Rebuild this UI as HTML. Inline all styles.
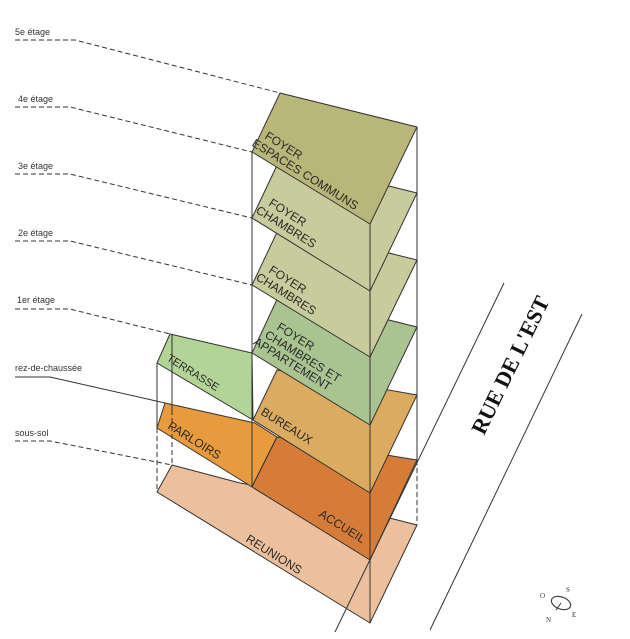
<!DOCTYPE html>
<html><head><meta charset="utf-8"><style>body{margin:0;background:#fff}svg{display:block}</style></head>
<body>
<svg width="630" height="639" viewBox="0 0 630 639" xmlns="http://www.w3.org/2000/svg" font-family="Liberation Sans, sans-serif">
<g stroke="#333" stroke-width="1" stroke-linejoin="round">
<!-- sous-sol -->
<polygon points="157,492 172,465 240,483 280,490 417,525 370,623" fill="#ecc09c"/>
<!-- rdc -->
<polygon points="157,428 165,403 255,423 277,437 252,487" fill="#e89b3c"/>
<polygon points="277,437 417,460 370,560 252,487" fill="#d57d38"/>
<!-- terrasse -->
<polygon points="157,363 170,334 252,353 253,420" fill="#b3d497"/>
<!-- bureaux -->
<polygon points="253,420 277,370 417,395 370,493" fill="#dbab60"/>
<!-- 1er -->
<polygon points="252,353 280,293 417,327 370,425" fill="#a9c391"/>
<!-- 2e -->
<polygon points="252,285 280,226 417,260 370,357" fill="#c8cb9b"/>
<!-- 3e -->
<polygon points="252,218 280,159 417,193 370,291" fill="#c8cb9b"/>
<!-- 4e -->
<polygon points="252,152 280,93 417,127 370,224" fill="#b8b678"/>
</g>
<g stroke="#333" stroke-width="1" fill="none">
<line x1="252" y1="152" x2="252" y2="487"/>
<line x1="370" y1="224" x2="370" y2="623"/>
<line x1="417" y1="127" x2="417" y2="460"/>
<line x1="157" y1="363" x2="157" y2="428"/>
<line x1="172" y1="335" x2="172" y2="410"/>
<g stroke-dasharray="5,3">
<line x1="417" y1="460" x2="417" y2="525"/>
<line x1="370" y1="560" x2="370" y2="623"/>
<line x1="157" y1="428" x2="157" y2="492"/>
<line x1="172" y1="410" x2="172" y2="465"/>
<polyline points="15,40 75,40 280,93"/>
<polyline points="15,107 70,107 252,152"/>
<polyline points="15,174 70,174 252,218"/>
<polyline points="15,241 70,241 252,285"/>
<polyline points="15,309 70,309 170,334"/>
<polyline points="15,441 50,441 172,465"/>
</g>
<polyline points="15,377 50,377 165,403"/>
<line x1="504" y1="283" x2="335" y2="632"/>
<line x1="582" y1="314" x2="430" y2="630"/>
</g>
<g font-size="9" fill="#333">
<text x="15" y="35">5e étage</text>
<text x="18" y="102">4e étage</text>
<text x="18" y="169">3e étage</text>
<text x="18" y="236">2e étage</text>
<text x="17" y="303">1er étage</text>
<text x="15" y="371">rez-de-chaussée</text>
<text x="15" y="436">sous-sol</text>
</g>
<g font-size="12" fill="#2a2a2a">
<g transform="translate(264,138) rotate(32)"><text>FOYER</text><text x="-7" y="13">ESPACES COMMUNS</text></g>
<g transform="translate(268,205) rotate(32)"><text>FOYER</text><text x="-7" y="13">CHAMBRES</text></g>
<g transform="translate(268,272) rotate(32)"><text>FOYER</text><text x="-7" y="13">CHAMBRES</text></g>
<g transform="translate(276,329) rotate(32)"><text>FOYER</text><text x="-6" y="13">CHAMBRES ET</text><text x="-12" y="25">APPARTEMENT</text></g>
<text transform="translate(166,360) rotate(32)" font-size="11">TERRASSE</text>
<text transform="translate(260,414) rotate(32)">BUREAUX</text>
<text transform="translate(167,428) rotate(32)">PARLOIRS</text>
<text transform="translate(318,516) rotate(32)">ACCUEIL</text>
<text transform="translate(245,541) rotate(32)">REUNIONS</text>
</g>
<text transform="translate(484,436) rotate(-64)" font-family="Liberation Serif, serif" font-weight="bold" font-size="22" fill="#111">RUE DE L'EST</text>
<ellipse cx="561" cy="603" rx="10" ry="6" transform="rotate(20 561 603)" fill="none" stroke="#444" stroke-width="1.2"/>
<line x1="556" y1="610" x2="561" y2="603" stroke="#333"/>
<g font-family="Liberation Serif, serif" font-size="7" fill="#333">
<text x="540" y="598">O</text><text x="566" y="592">S</text><text x="546" y="622">N</text><text x="572" y="617">E</text>
</g>
</svg>
</body></html>
